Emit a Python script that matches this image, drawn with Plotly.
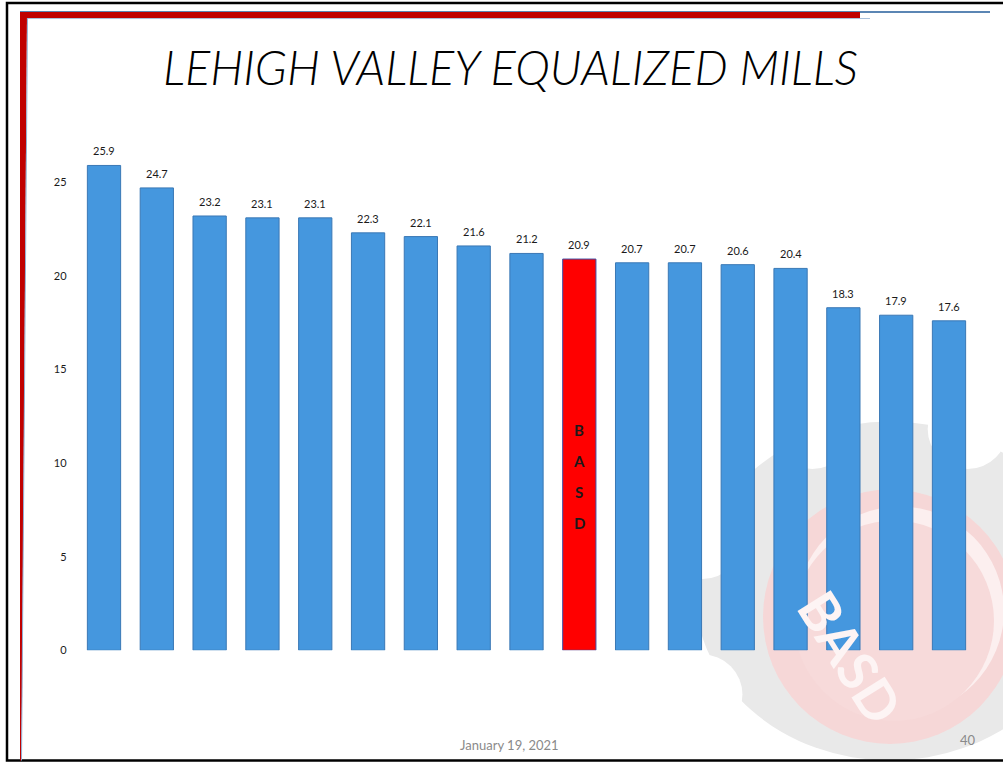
import numpy as np
import plotly.graph_objects as go

# ---- data ----
categories = [f"District {i}" for i in range(1, 18)]
mills = [25.9, 24.7, 23.2, 23.1, 23.1, 22.3, 22.1, 21.6, 21.2, 20.9,
         20.7, 20.7, 20.6, 20.4, 18.3, 17.9, 17.6]
highlight_index = 9
highlight_letters = ["B", "A", "S", "D"]
y_ticks = [0, 5, 10, 15, 20, 25]
title_text = "LEHIGH VALLEY EQUALIZED MILLS"
footer_date = "January 19, 2021"
slide_number = "40"

W, H = 1003, 767
FONT = "Lato"
VS = 0.991  # vertical calibration of the rendered page


def px(x):
    return x / W


def py(y):
    yd = min((y + 1) / VS, H - 0.5)
    return 1 - yd / H


bar_colors = ["#4597de"] * len(mills)
line_colors = ["#3a78b5"] * len(mills)
bar_colors[highlight_index] = "#ff0000"
line_colors[highlight_index] = "#3c4fa6"

fig = go.Figure()
fig.add_trace(go.Bar(
    x=categories, y=mills,
    marker=dict(color=bar_colors, line=dict(color=line_colors, width=1)),
    hoverinfo="x+y",
))

# value labels above bars
for c, v in zip(categories, mills):
    fig.add_annotation(x=c, y=v, xref="x", yref="y", text=f"{v:.1f}",
                       xanchor="center", yanchor="middle", yshift=14.5,
                       showarrow=False,
                       font=dict(family=FONT, size=11, color="#1a1a1a"))

# vertical letters inside the highlighted bar
n = len(highlight_letters)
for i, letter in enumerate(highlight_letters):
    fig.add_annotation(
        x=categories[highlight_index], y=mills[highlight_index] * 0.444,
        xref="x", yref="y", text="<b>" + letter + "</b>",
        xanchor="center", yanchor="middle",
        yshift=(n - 1) / 2 * 30.8 - i * 30.8,
        showarrow=False, font=dict(family=FONT, size=15, color="#1a1a1a"),
    )

shapes = []
# ---- watermark logo (background) ----
cx, cy = 890, 615


def circle(cxp, cyp, r, color):
    return dict(type="circle", xref="paper", yref="paper",
                x0=px(cxp - r), x1=px(cxp + r), y0=py(cyp + r), y1=py(cyp - r),
                fillcolor=color, line=dict(width=0), layer="below")


shapes.append(circle(cx, cy, 195, "#e9e9e9"))
for ang in np.arange(0, 360, 45) + 22.5:
    a = np.deg2rad(ang)
    shapes.append(circle(cx + 203 * np.cos(a), cy + 203 * np.sin(a), 40, "#ffffff"))
shapes.append(circle(cx, cy, 127, "#f6d7d7"))
shapes.append(circle(cx + 10, cy - 6, 104, "#fcefef"))
shapes.append(circle(cx + 4, cy + 4, 100, "#f7dada"))

fig.add_annotation(x=px(850), y=py(655), xref="paper", yref="paper",
                   xanchor="center", yanchor="middle",
                   text="<b>BASD</b>", showarrow=False, textangle=58,
                   font=dict(family=FONT, size=54, color="#fdf4f4"))

# ---- slide frame ----
shapes.append(dict(type="rect", xref="paper", yref="paper",
                   x0=px(7), x1=px(1012), y0=py(764), y1=py(2),
                   line=dict(color="#000000", width=2.5), fillcolor="rgba(0,0,0,0)"))
shapes.append(dict(type="rect", xref="paper", yref="paper",
                   x0=px(20), x1=px(990), y0=py(12), y1=py(10),
                   line=dict(width=0), fillcolor="#5b86b4"))
shapes.append(dict(type="rect", xref="paper", yref="paper",
                   x0=px(20), x1=px(860), y0=py(17), y1=py(11),
                   line=dict(width=0), fillcolor="#c00000"))
shapes.append(dict(type="line", xref="paper", yref="paper",
                   x0=px(27), x1=px(870), y0=py(17.5), y1=py(17.5),
                   line=dict(color="#a9c1dc", width=1)))
shapes.append(dict(type="path", xref="paper", yref="paper",
                   path=f"M {px(20)},{py(11)} L {px(27)},{py(11)} L {px(22)},{py(700)} "
                        f"L {px(21)},{py(760)} L {px(20)},{py(760)} Z",
                   line=dict(width=0), fillcolor="#c00000"))
shapes.append(dict(type="line", xref="paper", yref="paper",
                   x0=px(27.5), x1=px(21.5), y0=py(17), y1=py(762),
                   line=dict(color="#8fb0d4", width=1)))

fig.update_layout(shapes=shapes)

# ---- title and footer ----
fig.add_annotation(x=px(511), y=py(66), xref="paper", yref="paper",
                   xanchor="center", yanchor="middle",
                   text="<i>" + title_text + "</i>", showarrow=False,
                   font=dict(family=FONT, size=47, color="#000000", weight=300))
fig.add_annotation(x=px(509), y=py(743), xref="paper", yref="paper",
                   xanchor="center", yanchor="middle",
                   text=footer_date, showarrow=False,
                   font=dict(family=FONT, size=13, color="#8a8a8a"))
fig.add_annotation(x=px(968), y=py(738), xref="paper", yref="paper",
                   xanchor="center", yanchor="middle",
                   text=slide_number, showarrow=False,
                   font=dict(family=FONT, size=13, color="#8a8a8a"))

fig.update_layout(
    width=W, height=H,
    margin=dict(l=0, r=0, t=0, b=0),
    paper_bgcolor="#ffffff", plot_bgcolor="rgba(0,0,0,0)",
    showlegend=False, bargap=0.37,
    xaxis=dict(domain=[px(77.6), px(975.4)], showticklabels=False, showgrid=False,
               zeroline=False, showline=False, ticks=""),
    yaxis=dict(domain=[py(648.5), py(125)], range=[0, 28], tickvals=y_ticks,
               showgrid=False, zeroline=False, showline=False,
               ticklabelstandoff=10,
               tickfont=dict(family=FONT, size=11, color="#1a1a1a")),
)

fig.write_html(
    "out.html",
    config={"displayModeBar": False},
    post_script=("document.body.style.margin='0';document.body.style.padding='0';"
                 "document.documentElement.style.overflow='hidden';"),
)
